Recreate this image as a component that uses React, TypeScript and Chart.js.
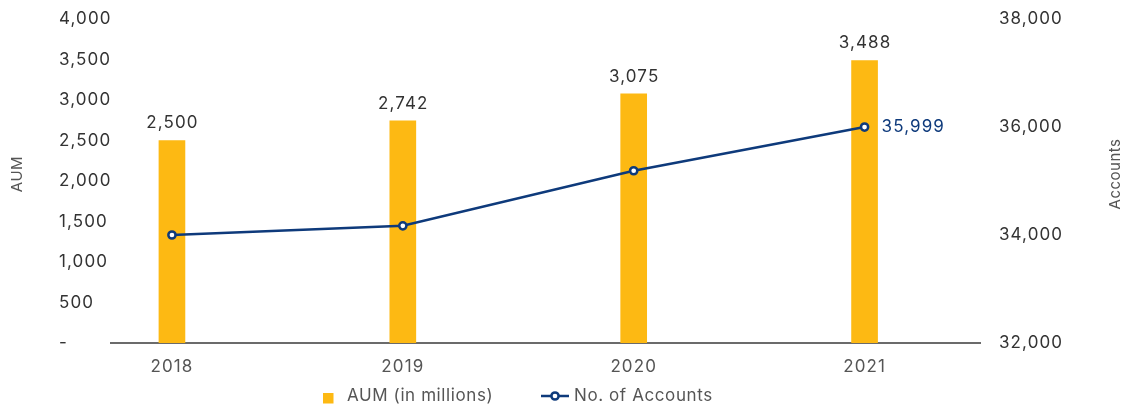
import React, { useEffect, useRef } from 'react';
import { Chart, registerables } from 'chart.js';

Chart.register(...registerables);

// ---- data ----
const years = ['2018', '2019', '2020', '2021'];
const aumValues = [2500, 2742, 3075, 3488];
const accountValues = [34000, 34170, 35190, 35999];
const labeledAccountIdx = [3];
const aumAxis = { min: 0, max: 4000, step: 500 };
const accAxis = { min: 32000, max: 38000, step: 2000 };
const legendLabels = ['AUM (in millions)', 'No. of Accounts'];
const axisTitles = ['AUM', 'Accounts'];

const FONT = 'Inter, "Noto Sans", sans-serif';
const BAR = '#FDB913';
const NAVY = '#0E3A7B';
const TEXT = '#333333';
const SOFT = '#555555';

const fmt = (v: number) => v.toLocaleString('en-US');

const overlayPlugin = {
  id: 'overlay',
  beforeDraw(chart: any) {
    chart.ctx.letterSpacing = '1.1px';
  },
  afterDatasetsDraw(chart: any) {
    const ctx = chart.ctx;
    ctx.save();
    ctx.letterSpacing = '1.1px';
    ctx.font = `400 17px ${FONT}`;
    ctx.textBaseline = 'middle';
    const barMeta = chart.getDatasetMeta(0);
    ctx.fillStyle = TEXT;
    ctx.textAlign = 'center';
    barMeta.data.forEach((el: any, i: number) => {
      ctx.fillText(fmt(aumValues[i]), el.x + 0.5, el.y - 17.5);
    });
    const lineMeta = chart.getDatasetMeta(1);
    ctx.fillStyle = NAVY;
    ctx.textAlign = 'left';
    labeledAccountIdx.forEach((i) => {
      const el = lineMeta.data[i];
      ctx.fillText(fmt(accountValues[i]), el.x + 17, el.y);
    });
    ctx.restore();
  },
  afterDraw(chart: any) {
    const ctx = chart.ctx;
    const area = chart.chartArea;
    ctx.save();
    // axis titles (both read bottom-to-top)
    ctx.letterSpacing = '0.5px';
    ctx.font = `400 15px ${FONT}`;
    ctx.fillStyle = SOFT;
    ctx.textAlign = 'center';
    ctx.textBaseline = 'middle';
    const midY = (area.top + area.bottom) / 2 - 7;
    ctx.save();
    ctx.translate(17.5, midY);
    ctx.rotate(-Math.PI / 2);
    ctx.fillText(axisTitles[0], 0, 0);
    ctx.restore();
    ctx.save();
    ctx.translate(chart.width - 6.5, midY);
    ctx.rotate(-Math.PI / 2);
    ctx.fillText(axisTitles[1], 0, 0);
    ctx.restore();

    // legend
    const ly = 396;
    ctx.letterSpacing = '0.6px';
    ctx.font = `400 17px ${FONT}`;
    ctx.textAlign = 'left';
    ctx.fillStyle = BAR;
    ctx.fillRect(323, ly - 3, 10.5, 10.5);
    ctx.fillStyle = SOFT;
    ctx.fillText(legendLabels[0], 347, ly);
    ctx.strokeStyle = NAVY;
    ctx.lineWidth = 2.5;
    ctx.beginPath();
    ctx.moveTo(541, ly);
    ctx.lineTo(569, ly);
    ctx.stroke();
    ctx.beginPath();
    ctx.arc(555, ly, 3.6, 0, Math.PI * 2);
    ctx.fillStyle = '#ffffff';
    ctx.fill();
    ctx.stroke();
    ctx.fillStyle = SOFT;
    ctx.fillText(legendLabels[1], 574, ly);
    ctx.restore();
  },
};

export default function App() {
  const ref = useRef<HTMLCanvasElement | null>(null);
  useEffect(() => {
    document.body.style.margin = '0';
    if (!ref.current) return;
    const chart = new Chart(ref.current, {
      type: 'bar',
      data: {
        datasets: [
          {
            type: 'bar',
            label: legendLabels[0],
            data: aumValues.map((v, i) => ({ x: i, y: v })),
            backgroundColor: BAR,
            barThickness: 26,
            yAxisID: 'y',
            order: 1,
          },
          {
            type: 'line',
            label: legendLabels[1],
            data: accountValues.map((v, i) => ({ x: i, y: v })),
            borderColor: NAVY,
            borderWidth: 2.5,
            pointBackgroundColor: '#ffffff',
            pointBorderColor: NAVY,
            pointBorderWidth: 2.5,
            pointRadius: 3.6,
            tension: 0,
            yAxisID: 'y1',
            order: 0,
          },
        ] as any,
      },
      options: {
        animation: false,
        responsive: true,
        maintainAspectRatio: false,
        layout: { padding: { left: 59, top: 19, right: 0, bottom: 0 } },
        plugins: {
          legend: { display: false },
          tooltip: { enabled: false },
        },
        scales: {
          x: {
            type: 'linear',
            offset: false,
            min: -0.264,
            max: 3.5,
            grid: { display: false, offset: false },
            border: { display: true, color: '#6b6b6b', width: 2 },
            afterBuildTicks: (scale: any) => {
              scale.ticks = years.map((_, i) => ({ value: i }));
            },
            afterFit: (scale: any) => {
              scale.height = 64;
              scale.paddingLeft = 0;
              scale.paddingRight = 0;
            },
            ticks: {
              padding: 6,
              color: SOFT,
              font: { family: FONT, size: 17 },
              callback: (v: any) => years[v] ?? '',
            },
          },
          y: {
            position: 'left',
            min: aumAxis.min,
            max: aumAxis.max,
            grid: { display: false, drawTicks: false },
            border: { display: false },
            afterFit: (scale: any) => {
              scale.width = 52;
              scale.paddingTop = 0;
              scale.paddingBottom = 0;
            },
            ticks: {
              stepSize: aumAxis.step,
              crossAlign: 'far',
              padding: 0,
              color: TEXT,
              font: { family: FONT, size: 17 },
              callback: (v: any) => (v === 0 ? '-' : fmt(v)),
            },
          },
          y1: {
            position: 'right',
            min: accAxis.min,
            max: accAxis.max,
            grid: { display: false, drawTicks: false },
            border: { display: false },
            afterFit: (scale: any) => {
              scale.width = 142;
              scale.paddingTop = 0;
              scale.paddingBottom = 0;
            },
            ticks: {
              stepSize: accAxis.step,
              padding: 19,
              color: TEXT,
              font: { family: FONT, size: 17 },
              callback: (v: any) => fmt(v),
            },
          },
        },
      } as any,
      plugins: [overlayPlugin],
    });
    return () => chart.destroy();
  }, []);
  return (
    <div style={{ width: 1122, height: 407, position: 'relative' }}>
      <canvas ref={ref} />
    </div>
  );
}
